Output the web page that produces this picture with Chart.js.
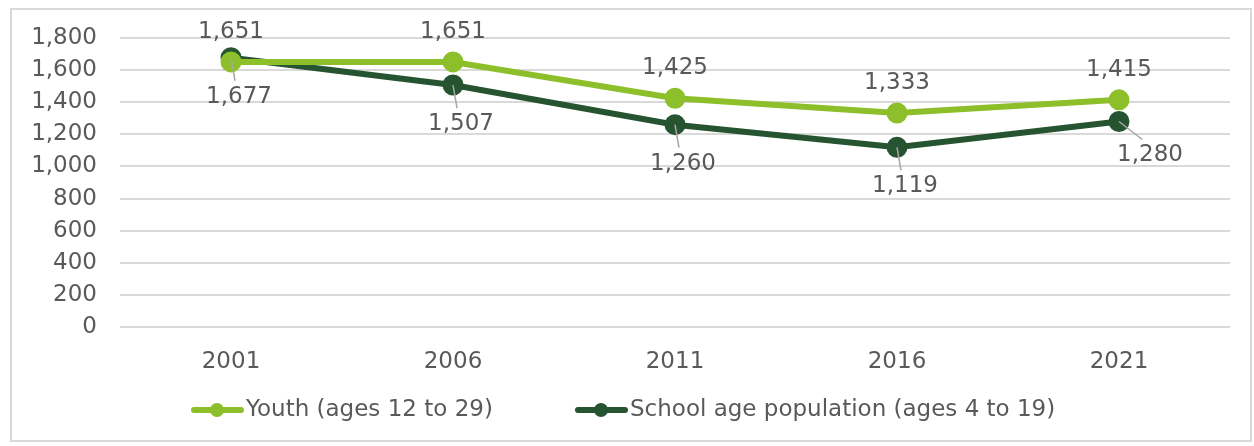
<!DOCTYPE html>
<html>
<head>
<meta charset="utf-8">
<script src="https://cdn.jsdelivr.net/npm/chart.js@4/dist/chart.umd.min.js"></script>
<style>
  body { margin: 0; background: #fff; }
  #wrap { position: absolute; left: 0; top: 0; width: 1254px; height: 446px; }
</style>
</head>
<body>
<div id="wrap"><canvas id="myChart" width="1254" height="446"></canvas></div>
<script>
const years = ['2001', '2006', '2011', '2016', '2021'];
const youth = [1651, 1651, 1425, 1333, 1415];
const schoolAge = [1677, 1507, 1260, 1119, 1280];
const yTicks = [0, 200, 400, 600, 800, 1000, 1200, 1400, 1600, 1800];

const verde = '#8cbf2a';
const verdeOscuro = '#265430';
const gris = '#595959';
const fuente = "'DejaVu Sans', Verdana, sans-serif";

// etiquetas de datos: youth arriba, school age abajo con linea guia
const etiquetas = {
  id: 'etiquetas',
  afterDatasetsDraw(chart) {
    const ctx = chart.ctx;
    ctx.save();
    ctx.font = '23px ' + fuente;
    ctx.fillStyle = gris;
    ctx.textAlign = 'center';
    ctx.textBaseline = 'middle';

    const m0 = chart.getDatasetMeta(0);
    m0.data.forEach((p, i) => {
      ctx.fillText(youth[i].toLocaleString('en-US'), p.x, p.y - 30);
    });

    const m1 = chart.getDatasetMeta(1);
    m1.data.forEach((p, i) => {
      const ultimo = i === m1.data.length - 1;
      let dx = 8, dy = 39;
      if (ultimo) { dx = 31; dy = 34; }
      ctx.strokeStyle = '#a6a6a6';
      ctx.lineWidth = 1.5;
      ctx.beginPath();
      ctx.moveTo(p.x, p.y);
      ctx.lineTo(p.x + dx * (ultimo ? 0.75 : 0.5), p.y + dy - 16);
      ctx.stroke();
      ctx.fillText(schoolAge[i].toLocaleString('en-US'), p.x + dx, p.y + dy);
    });
    ctx.restore();
  }
};

// leyenda abajo, con linea y punto como en excel
const leyenda = {
  id: 'leyenda',
  afterDraw(chart) {
    const ctx = chart.ctx;
    ctx.save();
    ctx.font = '23px ' + fuente;
    ctx.textBaseline = 'middle';
    const y = 410;
    const xs = [191, 575];
    chart.data.datasets.forEach((ds, i) => {
      const x = xs[i];
      ctx.strokeStyle = ds.borderColor;
      ctx.lineWidth = 6;
      ctx.lineCap = 'round';
      ctx.beginPath();
      ctx.moveTo(x + 3, y);
      ctx.lineTo(x + 50, y);
      ctx.stroke();
      ctx.fillStyle = ds.borderColor;
      ctx.beginPath();
      ctx.arc(x + 26, y, 7, 0, Math.PI * 2);
      ctx.fill();
      ctx.fillStyle = gris;
      ctx.fillText(ds.label, x + 55, y);
    });
    ctx.restore();
  }
};

const borde = {
  id: 'borde',
  beforeDraw(chart) {
    const ctx = chart.ctx;
    ctx.save();
    ctx.fillStyle = '#fff';
    ctx.fillRect(0, 0, chart.width, chart.height);
    ctx.strokeStyle = '#d9d9d9';
    ctx.lineWidth = 2;
    ctx.strokeRect(11, 9, 1240, 432);
    ctx.restore();
  }
};

const ctx = document.getElementById('myChart');
new Chart(ctx, {
  type: 'line',
  data: {
    labels: years,
    datasets: [{
      label: 'Youth (ages 12 to 29)',
      data: youth,
      borderColor: verde,
      backgroundColor: verde,
      borderWidth: 6,
      pointRadius: 7.5,
      pointHoverRadius: 7.5,
      fill: false,
      tension: 0
    }, {
      label: 'School age population (ages 4 to 19)',
      data: schoolAge,
      borderColor: verdeOscuro,
      backgroundColor: verdeOscuro,
      borderWidth: 6,
      pointRadius: 7.5,
      pointHoverRadius: 7.5,
      fill: false,
      tension: 0
    }]
  },
  options: {
    responsive: false,
    animation: false,
    layout: { padding: { top: 38, right: 24, bottom: 59, left: 0 } },
    plugins: {
      legend: { display: false },
      tooltip: { enabled: false }
    },
    scales: {
      x: {
        offset: true,
        grid: { display: false },
        border: { display: false },
        ticks: { color: gris, font: { family: fuente, size: 23 }, padding: 13 },
        afterFit: s => { s.height = 60; }
      },
      y: {
        min: 0,
        max: 1800,
        afterBuildTicks: s => { s.ticks = yTicks.map(v => ({ value: v })); },
        grid: { color: '#d9d9d9', lineWidth: 2, drawTicks: false },
        border: { display: false },
        ticks: {
          color: gris,
          font: { family: fuente, size: 23 },
          padding: 23,
          callback: v => v.toLocaleString('en-US')
        },
        afterFit: s => { s.width = 120; }
      }
    }
  },
  plugins: [borde, etiquetas, leyenda]
});
</script>
</body>
</html>
